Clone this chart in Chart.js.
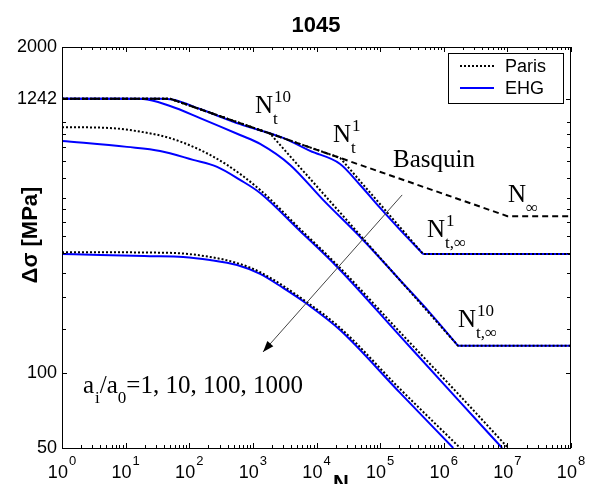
<!DOCTYPE html>
<html>
<head>
<meta charset="utf-8">
<script src="https://cdn.jsdelivr.net/npm/chart.js@4/dist/chart.umd.min.js"></script>
<style>
  html, body { margin: 0; padding: 0; background: #fff; }
  #wrap { width: 595px; height: 484px; position: relative; }
  canvas { display: block; }
</style>
</head>
<body>
<div id="wrap"><canvas id="c" width="595" height="484"></canvas></div>
<script>
// ---------------- data ----------------
const chartTitle = '1045';
const xTickExps = [0, 1, 2, 3, 4, 5, 6, 7, 8];
const yTicks = [50, 100, 1242, 2000];
const yMinorTicks = [150, 200, 250, 300, 350, 400, 450, 500, 600, 700, 800, 900, 1000];

// Basquin line (dashed)
const basquinN = [1, 50, 1e7, 1e8];
const basquinS = [1242, 1242, 422, 422];

// Paris model (dotted), a_i/a_0 = 1, 10, 100, 1000
const paris1N = [1, 50, 23500, 474000, 1e8];
const paris1S = [1242, 1242, 721, 298, 298];
const paris10N = [1, 50, 1862, 1.68e6, 1e8];
const paris10S = [1242, 1242, 902, 128, 128];
const paris100N = [1, 5.7, 18.8, 50, 148, 393, 1300, 5520, 23500, 206000, 1.81e6, 1.03e7];
const paris100S = [957, 949, 914, 865, 776, 676, 537, 375, 262, 145, 80.7, 50];
const paris1000N = [1, 50, 212, 565, 1300, 7115, 23500, 206000, 1.81e6];
const paris1000S = [303, 301, 290, 274, 252, 191, 151, 86, 50];

// EHG model (blue), a_i/a_0 = 1, 10, 100, 1000
const ehg1N = [1, 35, 54, 148, 629, 2985, 7925, 23500, 48500, 1e5, 206000, 474000];
const ehg1S = [1242, 1242, 1234, 1130, 984, 867, 769, 682, 562, 455, 372, 298];
const ehg1PlateauN = [474000, 1e8];
const ehg1PlateauS = [298, 298];
const ehg10N = [1, 8.2, 18.8, 50, 148, 629, 1300, 3850, 12700, 54000, 206000, 611000, 1.68e6];
const ehg10S = [1242, 1242, 1240, 1162, 1040, 890, 820, 676, 490, 339, 234, 173, 128];
const ehg10PlateauN = [1.68e6, 1e8];
const ehg10PlateauS = [128, 128];
const ehg100N = [1, 10.5, 34.8, 115, 274, 629, 1300, 5520, 21900, 206000, 1.81e6, 8.28e6];
const ehg100S = [843, 798, 769, 708, 664, 589, 522, 368, 262, 140, 76.3, 50];
const ehg1000N = [1, 4, 24, 80, 212, 565, 1300, 2985, 7115, 23500, 206000, 1.41e6];
const ehg1000S = [298, 295, 292, 290, 282, 269, 248, 218, 188, 148, 83, 50];

// arrow (direction of increasing a_i/a_0)
const arrowN = [2.22e5, 1445];
const arrowS = [513, 121];

const legendLabels = ['Paris', 'EHG'];

// ---------------- helpers ----------------
const SANS = '"Liberation Sans", Arial, Helvetica, sans-serif';
const SERIF = '"Liberation Serif", "Times New Roman", Times, serif';
const BLUE = '#0000ff';

function pts(ns, ss) { return ns.map((n, i) => ({ x: n, y: ss[i] })); }

function ehgSet(ns, ss, label, smooth) {
  return { label, data: pts(ns, ss), showLine: true, borderColor: BLUE, borderWidth: 2,
           pointRadius: 0, tension: 0, cubicInterpolationMode: smooth ? 'monotone' : 'default',
           fill: false, order: 4 };
}
function parisSet(ns, ss, label, smooth) {
  return { label, data: pts(ns, ss), showLine: true, borderColor: '#000', borderWidth: 2,
           borderDash: [2, 2], pointRadius: 0, tension: 0,
           cubicInterpolationMode: smooth ? 'monotone' : 'default', fill: false, order: 3 };
}

const datasets = [
  ehgSet(ehg1N, ehg1S, 'EHG 1', true),
  ehgSet(ehg1PlateauN, ehg1PlateauS, 'EHG 1 plateau', false),
  ehgSet(ehg10N, ehg10S, 'EHG 10', true),
  ehgSet(ehg10PlateauN, ehg10PlateauS, 'EHG 10 plateau', false),
  ehgSet(ehg100N, ehg100S, 'EHG 100', true),
  ehgSet(ehg1000N, ehg1000S, 'EHG 1000', true),
  parisSet(paris1N, paris1S, 'Paris 1', false),
  parisSet(paris10N, paris10S, 'Paris 10', false),
  parisSet(paris100N, paris100S, 'Paris 100', true),
  parisSet(paris1000N, paris1000S, 'Paris 1000', true),
  { label: 'Basquin', data: pts(basquinN, basquinS), showLine: true, borderColor: '#000',
    borderWidth: 2, borderDash: [6, 4], pointRadius: 0, tension: 0, fill: false, order: 2 },
  { label: 'arrow', data: pts(arrowN, arrowS), showLine: true, borderColor: '#444',
    borderWidth: 1, pointRadius: 0, tension: 0, fill: false, order: 1 }
];

function drawSubSup(ctx, base, x, y, sup, sub, size, subSize) {
  ctx.font = size + 'px ' + SERIF;
  ctx.textAlign = 'left';
  ctx.textBaseline = 'alphabetic';
  ctx.fillText(base, x, y);
  const w = ctx.measureText(base).width;
  ctx.font = subSize + 'px ' + SERIF;
  if (sup) ctx.fillText(sup, x + w + 1, y - 11);
  if (sub) ctx.fillText(sub, x + w, y + 11);
}

const overlay = {
  id: 'overlay',
  afterDraw(chart) {
    const { ctx, chartArea: a, scales } = chart;
    const xs = scales.x, ys = scales.y;
    ctx.save();
    ctx.fillStyle = '#000';
    ctx.strokeStyle = '#000';

    // arrowhead at the end of the arrow dataset
    const ax0 = xs.getPixelForValue(arrowN[0]), ay0 = ys.getPixelForValue(arrowS[0]);
    const ax1 = xs.getPixelForValue(arrowN[1]), ay1 = ys.getPixelForValue(arrowS[1]);
    const ang = Math.atan2(ay1 - ay0, ax1 - ax0);
    const L = 11, W = 4;
    ctx.beginPath();
    ctx.moveTo(ax1, ay1);
    ctx.lineTo(ax1 - L * Math.cos(ang) + W * Math.sin(ang), ay1 - L * Math.sin(ang) - W * Math.cos(ang));
    ctx.lineTo(ax1 - L * Math.cos(ang) - W * Math.sin(ang), ay1 - L * Math.sin(ang) + W * Math.cos(ang));
    ctx.closePath();
    ctx.fill();

    // frame
    ctx.lineWidth = 1;
    ctx.setLineDash([]);
    ctx.strokeRect(a.left + 0.5, a.top + 0.5, a.right - a.left - 1, a.bottom - a.top);

    // x ticks (bottom and top, inward)
    ctx.beginPath();
    for (let e = xTickExps[0]; e <= xTickExps[xTickExps.length - 1]; e++) {
      for (let m = 1; m <= 9; m++) {
        const v = m * Math.pow(10, e);
        if (v > 1e8) break;
        const px = Math.round(xs.getPixelForValue(v)) + 0.5;
        const len = m === 1 ? 5 : 3;
        ctx.moveTo(px, a.bottom); ctx.lineTo(px, a.bottom - len);
        ctx.moveTo(px, a.top); ctx.lineTo(px, a.top + len);
      }
    }
    // y ticks (left and right, inward)
    yTicks.concat(yMinorTicks).forEach(v => {
      const py = Math.round(ys.getPixelForValue(v)) + 0.5;
      const len = yTicks.includes(v) ? 5 : 4;
      ctx.moveTo(a.left, py); ctx.lineTo(a.left + len, py);
      ctx.moveTo(a.right, py); ctx.lineTo(a.right - len, py);
    });
    ctx.stroke();

    // x tick labels 10^e
    ctx.textBaseline = 'alphabetic';
    ctx.textAlign = 'left';
    xs.ticks.forEach(t => {
      const e = Math.round(Math.log10(t.value));
      const px = xs.getPixelForValue(t.value);
      ctx.font = '18px ' + SANS;
      const w1 = ctx.measureText('10').width;
      ctx.font = '13px ' + SANS;
      const w2 = ctx.measureText(String(e)).width;
      const start = px - (w1 + 1 + w2) / 2;
      ctx.font = '18px ' + SANS;
      ctx.fillText('10', start, 478);
      ctx.font = '13px ' + SANS;
      ctx.fillText(String(e), start + w1 + 1, 465);
    });

    // title
    ctx.font = 'bold 22px ' + SANS;
    ctx.textAlign = 'center';
    ctx.fillText(chartTitle, 316, 32);

    // axis titles
    ctx.font = 'bold 22px ' + SANS;
    ctx.fillText('N', 341, 490);
    ctx.save();
    ctx.translate(37, 235);
    ctx.rotate(-Math.PI / 2);
    ctx.textAlign = 'center';
    ctx.fillText('\u0394\u03c3 [MPa]', 0, 0);
    ctx.restore();

    // legend
    ctx.fillStyle = '#fff';
    ctx.fillRect(448, 53, 115, 50);
    ctx.strokeStyle = '#000';
    ctx.lineWidth = 1;
    ctx.strokeRect(448.5, 53.5, 115, 50);
    ctx.lineWidth = 2;
    ctx.setLineDash([2, 2]);
    ctx.beginPath(); ctx.moveTo(460, 66); ctx.lineTo(494, 66); ctx.stroke();
    ctx.setLineDash([]);
    ctx.strokeStyle = BLUE;
    ctx.beginPath(); ctx.moveTo(460, 88); ctx.lineTo(494, 88); ctx.stroke();
    ctx.fillStyle = '#000';
    ctx.font = '18px ' + SANS;
    ctx.textAlign = 'left';
    ctx.textBaseline = 'middle';
    ctx.fillText(legendLabels[0], 505, 67);
    ctx.fillText(legendLabels[1], 505, 89);

    // annotations
    ctx.textBaseline = 'alphabetic';
    drawSubSup(ctx, 'N', 255, 113, '10', 't', 25, 17);
    drawSubSup(ctx, 'N', 333, 142, '1', 't', 25, 17);
    drawSubSup(ctx, 'N', 508, 202, null, '\u221e', 25, 17);
    drawSubSup(ctx, 'N', 427, 237, '1', 't,\u221e', 25, 17);
    drawSubSup(ctx, 'N', 458, 327, '10', 't,\u221e', 25, 17);
    ctx.font = '25px ' + SERIF;
    ctx.fillText('Basquin', 393, 167);

    // a_i/a_0 = 1, 10, 100, 1000
    let xx = 83;
    const by = 393;
    ctx.font = '25px ' + SERIF; ctx.fillText('a', xx, by); xx += ctx.measureText('a').width;
    ctx.font = '17px ' + SERIF; ctx.fillText('i', xx + 1, by + 10); xx += ctx.measureText('i').width + 1;
    ctx.font = '25px ' + SERIF; ctx.fillText('/a', xx, by); xx += ctx.measureText('/a').width;
    ctx.font = '17px ' + SERIF; ctx.fillText('0', xx, by + 10); xx += ctx.measureText('0').width;
    ctx.font = '25px ' + SERIF; ctx.fillText('=1, 10, 100, 1000', xx, by);

    ctx.restore();
  }
};

new Chart(document.getElementById('c'), {
  type: 'scatter',
  data: { datasets },
  options: {
    responsive: false,
    animation: false,
    events: [],
    layout: { padding: { top: 47, right: 24, left: 0, bottom: 0 } },
    plugins: { legend: { display: false }, tooltip: { enabled: false }, title: { display: false } },
    scales: {
      x: {
        type: 'logarithmic', min: 1, max: 1e8, position: 'bottom',
        grid: { display: false, drawTicks: false },
        border: { display: false },
        ticks: { display: false },
        afterBuildTicks: s => { s.ticks = xTickExps.map(e => ({ value: Math.pow(10, e) })); },
        afterFit: s => { s.height = 36; }
      },
      y: {
        type: 'logarithmic', min: 50, max: 2000, position: 'left',
        grid: { display: false, drawTicks: false },
        border: { display: false },
        ticks: {
          color: '#000', padding: 5,
          font: { family: SANS, size: 18 },
          callback: v => String(v)
        },
        afterBuildTicks: s => { s.ticks = yTicks.map(v => ({ value: v })); },
        afterFit: s => { s.width = 62; }
      }
    }
  },
  plugins: [overlay]
});
</script>
</body>
</html>
